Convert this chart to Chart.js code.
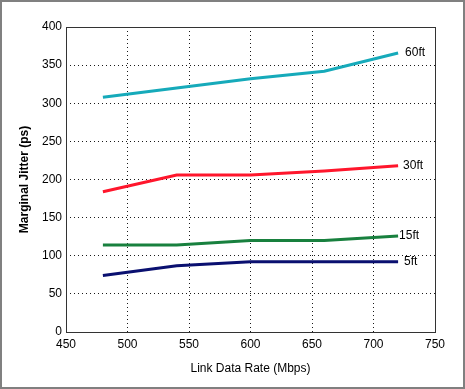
<!DOCTYPE html>
<html lang="en">
<head>
  <meta charset="UTF-8">
  <title>Marginal Jitter</title>
  <style>
    html, body { margin: 0; padding: 0; background: #fff; }
    #wrap { position: relative; width: 465px; height: 389px; box-sizing: border-box; border: 2px solid rgb(128 128 128); }
  </style>
</head>
<body>
  <div id="wrap"><canvas id="myChart" width="461" height="385"></canvas></div>

  <script src="https://cdn.jsdelivr.net/npm/chart.js"></script>
  <script>
    const rates = [480, 540, 600, 660, 720];
    const jitter60 = [308, 320, 332, 342, 366];
    const jitter30 = [184, 206, 206, 211, 218];
    const jitter15 = [114, 114, 120, 120, 126];
    const jitter5 = [74, 87, 92, 92, 92];
    const lengths = ['60ft', '30ft', '15ft', '5ft'];
    const xTicks = [450, 500, 550, 600, 650, 700, 750];
    const yTicks = [0, 50, 100, 150, 200, 250, 300, 350, 400];

    const font = "'Liberation Sans', Arial, sans-serif";
    const pts = (ys) => rates.map((x, i) => ({ x, y: ys[i] }));

    // matlab style box around the plot + text at line ends
    const boxPlugin = {
      id: 'box',
      afterDraw(chart) {
        const { ctx, chartArea: a } = chart;
        ctx.save();
        ctx.strokeStyle = '#333';
        ctx.lineWidth = 1;
        ctx.strokeRect(a.left + 0.5, a.top + 0.5, a.right - a.left, a.bottom - a.top);
        ctx.font = '12px ' + font;
        ctx.fillStyle = '#000';
        ctx.textBaseline = 'middle';
        const dx = [7, 5, 1, 6];
        chart.data.datasets.forEach((ds, i) => {
          const p = chart.getDatasetMeta(i).data[ds.data.length - 1];
          ctx.fillText(ds.label, p.x + dx[i], p.y);
        });
        ctx.restore();
      }
    };

    const grid = {
      color: 'rgba(0,0,0,0.9)',
      lineWidth: 1,
      drawTicks: false
    };

    new Chart(document.getElementById('myChart'), {
      type: 'line',
      data: {
        datasets: [
          { label: lengths[0], data: pts(jitter60), borderColor: 'rgb(22,170,186)' },
          { label: lengths[1], data: pts(jitter30), borderColor: 'rgb(255,22,44)' },
          { label: lengths[2], data: pts(jitter15), borderColor: 'rgb(24,128,62)' },
          { label: lengths[3], data: pts(jitter5), borderColor: 'rgb(10,16,112)' }
        ]
      },
      options: {
        responsive: false,
        animation: false,
        events: [],
        layout: { padding: { top: 25, right: 28, left: 0, bottom: 11 } },
        elements: {
          line: { borderWidth: 3, tension: 0, borderCapStyle: 'butt' },
          point: { radius: 0 }
        },
        plugins: { legend: { display: false }, tooltip: { enabled: false } },
        scales: {
          x: {
            type: 'linear',
            min: 450, max: 750,
            afterBuildTicks: (s) => { s.ticks = xTicks.map(v => ({ value: v })); },
            afterFit: (s) => { s.height = 44; },
            grid: grid,
            border: { display: false, dash: [1, 3] },
            ticks: { color: '#000', padding: 5, maxRotation: 0, font: { family: font, size: 12 } },
            title: { display: true, text: 'Link Data Rate (Mbps)', color: '#000', padding: 0, font: { family: font, size: 12 } }
          },
          y: {
            min: 0, max: 400,
            afterBuildTicks: (s) => { s.ticks = yTicks.map(v => ({ value: v })); },
            afterFit: (s) => { s.width = 64; },
            grid: grid,
            border: { display: false, dash: [1, 3] },
            ticks: { color: '#000', padding: 4, font: { family: font, size: 12 } },
            title: { display: true, text: 'Marginal Jitter (ps)', color: '#000', padding: { top: 15, bottom: 0 }, font: { family: font, size: 12, weight: 'bold' } }
          }
        }
      },
      plugins: [boxPlugin]
    });
  </script>
</body>
</html>
